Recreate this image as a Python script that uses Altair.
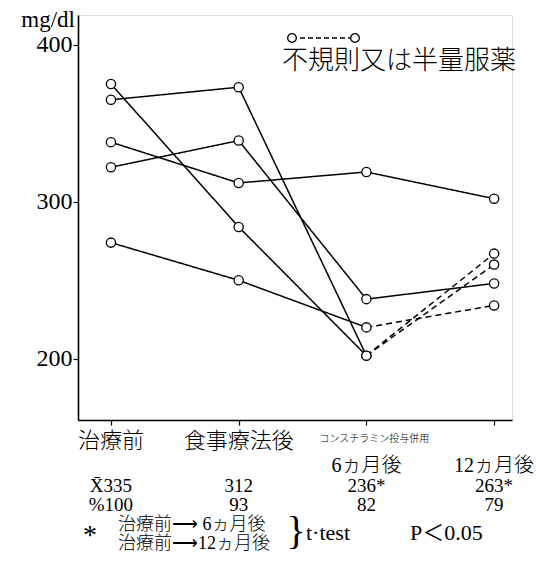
import altair as alt
import pandas as pd

# ---------------- data ----------------
stage_idx = [0, 1, 2, 3]
stage_top = ["治療前", "食事療法後", "", ""]
stage_bottom = ["", "", "6ヵ月後", "12ヵ月後"]
combo_note = "コンスチラミン投与併用"
patients = ["A", "B", "C", "D", "E"]
p_A = [365, 373, 202, 267]
p_B = [375, 284, 202, 260]
p_C = [338, 312, 319, 302]
p_D = [322, 339, 238, 248]
p_E = [274, 250, 220, 234]
last_dashed = [True, True, False, False, True]
mean_vals = [335, 312, 236, 263]
mean_mark = ["", "", "*", "*"]
pct_vals = [100, 93, 82, 79]
y_ticks = [200, 300, 400]
legend_label = "不規則又は半量服薬"
foot_lines = ["治療前⟶ 6ヵ月後", "治療前⟶12ヵ月後"]
foot_test = "t·test"
foot_p = "P＜0.05"
unit = "mg/dl"

FONT = "Liberation Serif, Noto Sans CJK JP"
W, H = 434, 405

series = dict(zip(patients, [p_A, p_B, p_C, p_D, p_E]))

pts = pd.DataFrame(
    [{"patient": p, "idx": i, "value": v} for p in patients for i, v in zip(stage_idx, series[p])]
)

seg_rows = []
for p, dl in zip(patients, last_dashed):
    vals = series[p]
    for k in range(3):
        style = "dashed" if (k == 2 and dl) else "solid"
        for j in (k, k + 1):
            seg_rows.append({"seg": f"{p}{k}", "idx": j, "value": vals[j], "style": style})
segs = pd.DataFrame(seg_rows)

xs = alt.Scale(domain=[-0.258, 3.14], nice=False, zero=False)
ys = alt.Scale(domain=[161, 419], nice=False, zero=False)

x_enc = alt.X("idx:Q", scale=xs,
              axis=alt.Axis(values=stage_idx, labels=False, title=None, grid=False,
                            domainColor="black", domainWidth=1.6, tickColor="black",
                            tickSize=5, tickWidth=1.2))
y_enc = alt.Y("value:Q", scale=ys,
              axis=alt.Axis(values=y_ticks, title=None, grid=False, domainColor="black",
                            domainWidth=1.6, tickColor="black", tickSize=5, tickWidth=1.2,
                            labelFont=FONT, labelFontSize=24, labelColor="black",
                            labelPadding=1))

lines = alt.Chart(segs).mark_line(color="black", strokeWidth=1.5).encode(
    x=x_enc, y=y_enc, detail="seg:N",
    strokeDash=alt.StrokeDash("style:N", scale=alt.Scale(domain=["solid", "dashed"],
                                                         range=[[1, 0], [6, 4]]), legend=None),
)

points = alt.Chart(pts).mark_circle(fill="white", stroke="black", strokeWidth=1.3,
                                    opacity=1, size=85).encode(
    x=alt.X("idx:Q", scale=xs), y=alt.Y("value:Q", scale=ys))

one = pd.DataFrame({"a": [0]})


def txt(t, x, y, size, align="left", weight=400):
    return alt.Chart(pd.DataFrame({"t": [t]})).mark_text(
        font=FONT, fontSize=size, align=align, baseline="middle", color="black",
        fontWeight=weight).encode(x=alt.value(x), y=alt.value(y), text="t:N")


# legend
leg_line = alt.Chart(one).mark_rule(color="black", strokeWidth=1.4, strokeDash=[5, 3]).encode(
    x=alt.value(214), x2=alt.value(277), y=alt.value(23))
leg_c1 = alt.Chart(one).mark_circle(fill="white", stroke="black", strokeWidth=1.3,
                                    opacity=1, size=75).encode(x=alt.value(214), y=alt.value(23))
leg_c2 = alt.Chart(one).mark_circle(fill="white", stroke="black", strokeWidth=1.3,
                                    opacity=1, size=75).encode(x=alt.value(277), y=alt.value(23))
leg_txt = txt(legend_label, 204, 46, 26, weight=300)

unit_txt = txt(unit, -3, 5, 23, align="right")


def row(texts, ypx, size=22, dx=0, weight=400):
    df = pd.DataFrame({"idx": stage_idx, "t": texts})
    return alt.Chart(df).mark_text(font=FONT, fontSize=size, align="center",
                                   baseline="middle", color="black", dx=dx,
                                   fontWeight=weight).encode(
        x=alt.X("idx:Q", scale=xs), y=alt.value(ypx), text="t:N")


mean_txt = [("X̄" if i == 0 else "") + str(v) + m for i, (v, m) in enumerate(zip(mean_vals, mean_mark))]
pct_txt = [("%" if i == 0 else "") + str(v) for i, v in enumerate(pct_vals)]

r_top = row(stage_top, 426, 22, weight=300)
r_note = row(["", "", combo_note, ""], 424, 10, dx=8, weight=300)
r_bot = row(stage_bottom, 451, 20, weight=300)
r_mean = row(mean_txt, 471, 19)
r_pct = row(pct_txt, 490, 19)

star = txt("*", 12, 521, 28, align="center")
foot1 = txt(foot_lines[0], 40, 510, 18, weight=300)
foot2 = txt(foot_lines[1], 40, 529, 18, weight=300)
brace = txt("}", 218, 517, 40, align="center")
ttest = txt(foot_test, 228, 518, 22)
pval = txt(foot_p, 332, 518, 22)

chart = alt.layer(
    lines, points, leg_line, leg_c1, leg_c2, leg_txt, unit_txt,
    r_top, r_note, r_bot, r_mean, r_pct, star, foot1, foot2, brace, ttest, pval,
).properties(
    width=W, height=H,
    autosize=alt.AutoSizeParams(type="none"),
    padding={"left": 70, "top": 7, "right": 25, "bottom": 137},
).configure_view(stroke=None).configure(background="white")

chart.save("out.html", embed_options={"renderer": "svg", "actions": False})
